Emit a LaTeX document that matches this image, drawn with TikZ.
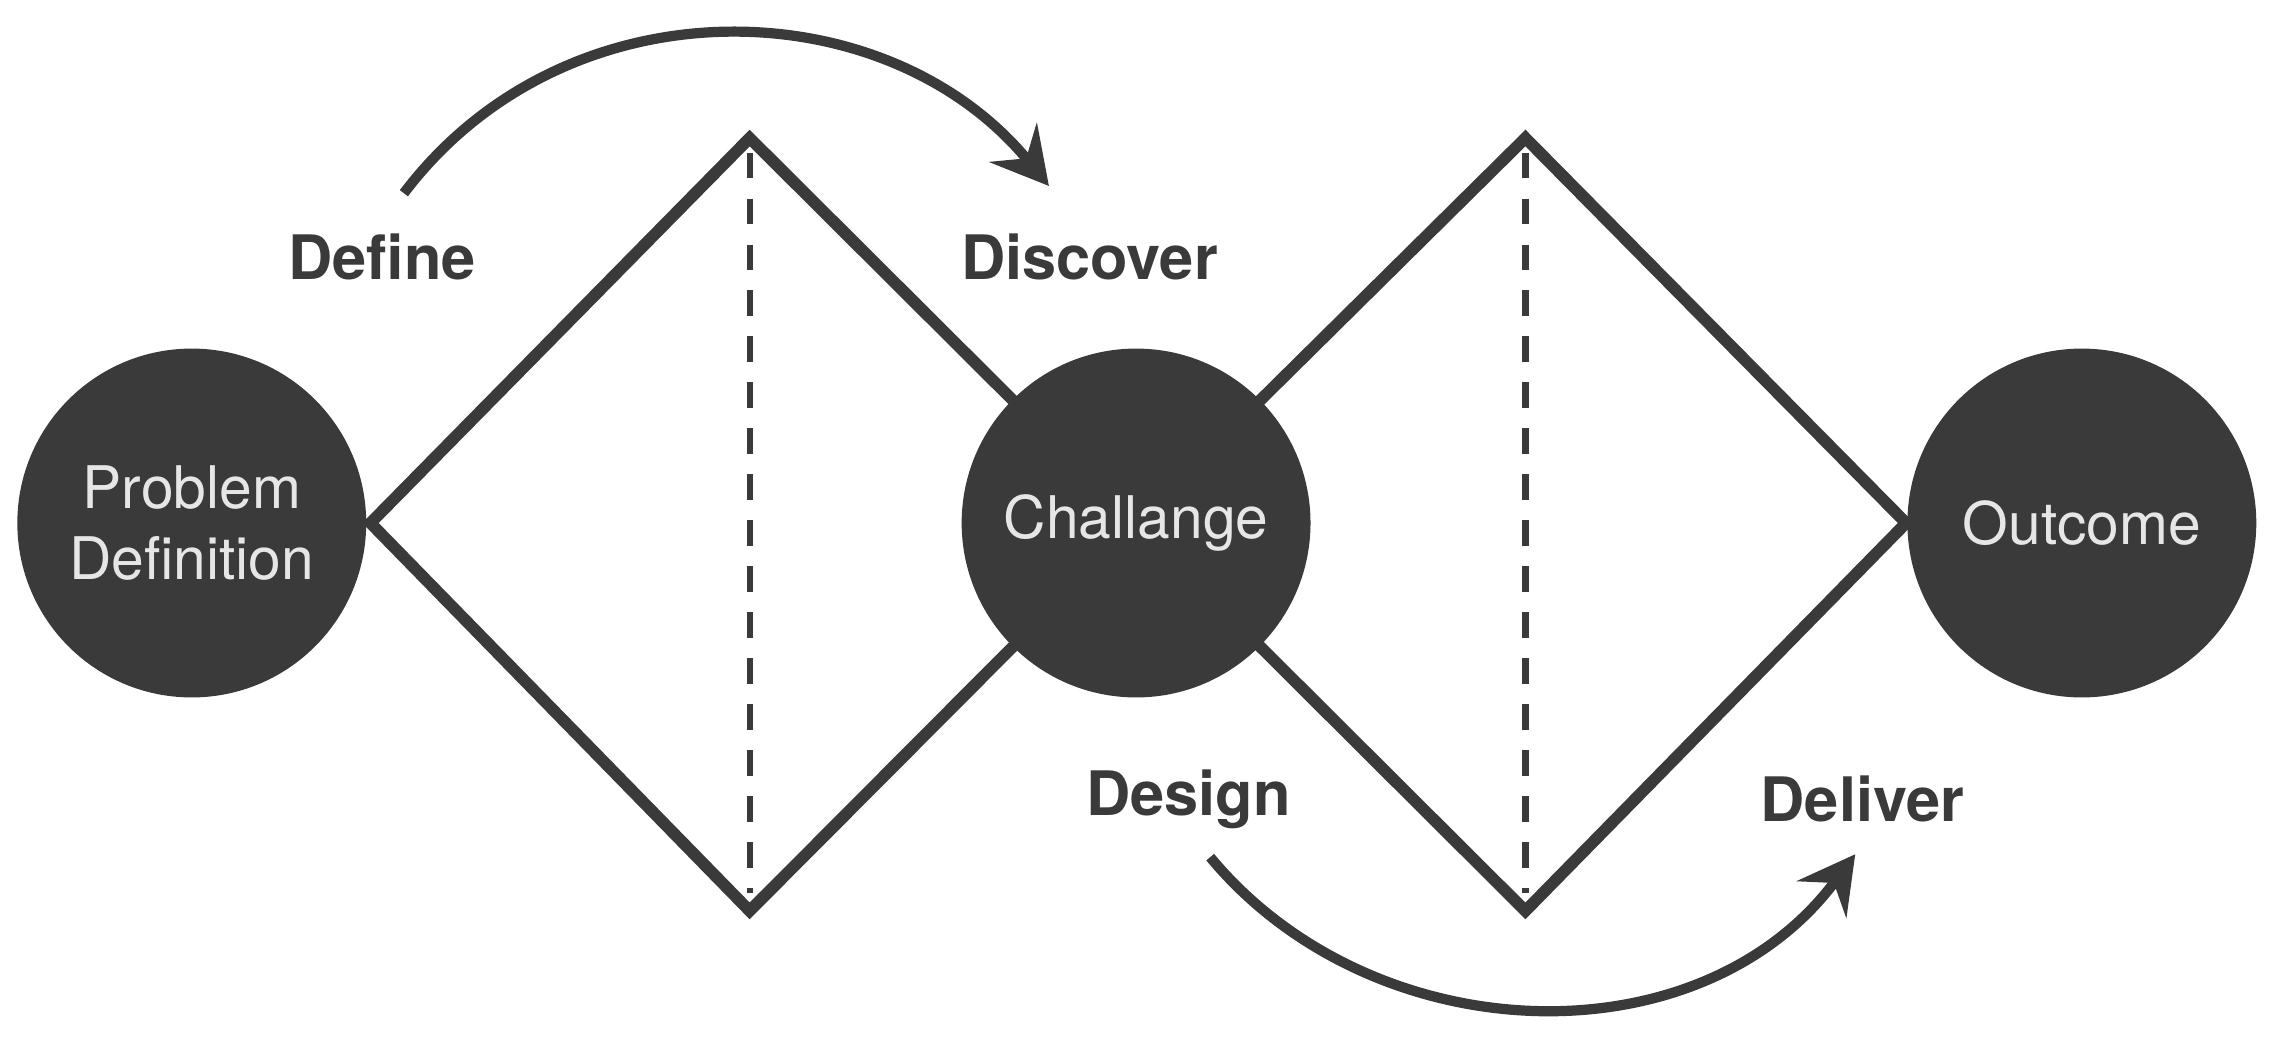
\documentclass[tikz,border=0pt]{standalone}
\usepackage{fontspec}
\setmainfont{TeX Gyre Heros}
\usetikzlibrary{arrows.meta}
\definecolor{dark}{HTML}{3A3A3A}
\definecolor{light}{HTML}{E6E6E6}
\begin{document}
\begin{tikzpicture}
[x=0.01cm, y=-0.01cm,
ball/.style={circle, fill=dark, minimum size=2.4cm, inner sep=0pt, text=light, font=\fontsize{11.5}{14}\selectfont, align=center},
edge/.style={draw=dark, line width=2.3pt},
mid/.style={draw=dark, line width=1.2pt, dash pattern=on 5pt off 4pt},
phase/.style={font=\bfseries\fontsize{12}{14}\selectfont, text=dark},
loop/.style={draw=dark, line width=2pt, -{Stealth[length=11pt, width=12pt, inset=4pt]}}]
\useasboundingbox (0,0) rectangle (1568,721);

\coordinate (topA) at (516,95);   \coordinate (botA) at (516,627);
\coordinate (topB) at (1050,95);  \coordinate (botB) at (1050,627);

% the two diamonds
\draw[edge, line join=miter] (255,360) -- (topA) -- (782,360) -- (botA) -- cycle;
\draw[edge, line join=miter] (782,360) -- (topB) -- (1312,360) -- (botB) -- cycle;
\draw[mid] (516,105) -- (516,615);
\draw[mid] (1050,105) -- (1050,615);

\node[ball] (problem) at (132,360) {Problem\\Definition};
\node[ball] (challange) at (782,360) {Challange};
\node[ball] (outcome) at (1433,360) {Outcome};

\node[phase] (define) at (263,177) {Define};
\node[phase] (discover) at (750,177) {Discover};
\node[phase] (design) at (818,550) {Design};
\node[phase] (deliver) at (1282,550) {Deliver};

\coordinate (startA) at (278,133);  \coordinate (endA) at (722,128);
\coordinate (startB) at (833,590);  \coordinate (endB) at (1277,588);
\draw[loop] (startA) .. controls (390,-15) and (610,-8) .. (endA);
\draw[loop] (startB) .. controls (945,725) and (1170,732) .. (endB);
\end{tikzpicture}
\end{document}
